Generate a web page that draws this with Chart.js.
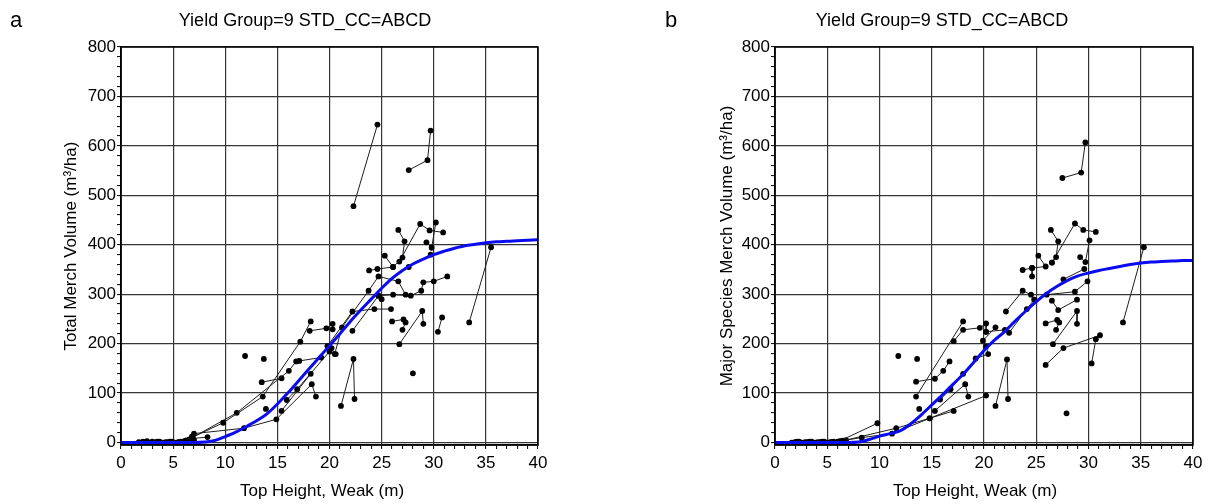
<!DOCTYPE html>
<html><head><meta charset="utf-8">
<script src="https://cdn.jsdelivr.net/npm/chart.js@4.4.1/dist/chart.umd.min.js"></script>
<style>
html,body{margin:0;padding:0;background:#fff;}
#wrap{position:relative;width:1211px;height:504px;overflow:hidden;}
canvas{position:absolute;top:0;}
#ca{left:0;width:605px;height:504px;}
#cb{left:605px;width:606px;height:504px;}
</style></head><body>
<div id="wrap"><canvas id="ca" width="605" height="504"></canvas><canvas id="cb" width="606" height="504"></canvas></div>
<script>
// ---------- texts ----------
const chartTitle = 'Yield Group=9 STD_CC=ABCD';
const xAxisTitle = 'Top Height, Weak (m)';
const aYTitle = 'Total Merch Volume (m³/ha)';
const bYTitle = 'Major Species Merch Volume (m³/ha)';
const panelLetters = ['a', 'b'];

// ---------- ticks ----------
const xTickLabels = ['0','5','10','15','20','25','30','35','40'];
const yTickLabels = ['0','100','200','300','400','500','600','700','800'];

// ---------- fitted yield curves (x = 0..40 m, step 1) ----------
const curveX = [0,1,2,3,4,5,6,7,8,9,10,11,12,13,14,15,16,17,18,19,20,21,22,23,24,25,26,27,28,29,30,31,32,33,34,35,36,37,38,39,40];
const aCurveY = [0,0,0,0,0,0,0,0,1,4,12,21,32,44,58,78,100,124,148,172,196,220,245,268,290,312,332,348,361,371,380,387,393,398,401,404,406,407,408,409,410];
const bCurveY = [0,0,0,0,0,0,0,0,1,6,13,18,24,38,56,76,96,117,138,162,186,207,225,246,266,285,302,316,328,337,343,348,352,356,360,363,365,366,367,368,368];

// ---------- observed plot trajectories [height, volume] ----------
const aEarly = [
  [[1.7,1],[2.1,2]], [[2.0,0],[2.5,3]], [[2.4,1],[3.0,2]], [[2.9,0],[3.5,2]],
  [[3.3,1],[3.9,0]], [[3.7,2],[4.3,1]], [[4.1,0],[4.7,2]], [[4.5,1],[5.1,0]],
  [[4.9,2],[5.5,1]], [[5.3,0],[5.8,2]], [[5.6,1],[6.2,4]], [[6.0,2],[6.8,12],[7.0,5]],
  [[6.3,3],[6.9,9]]
];
const aPlots = [
  [[6.2,4],[9.8,40],[13.6,93],[17.2,204],[18.2,245]],
  [[6.5,6],[11.1,60],[16.1,145],[16.8,164],[17.1,165],[19.2,172]],
  [[13.5,122],[15.4,130]],
  [[6.8,8],[8.3,11]],
  [[7.0,18],[11.8,29],[14.9,47],[18.3,118],[18.7,93]],
  [[15.4,64],[18.2,139]],
  [[15.9,86],[16.9,108],[20.0,184],[20.6,179]],
  [[18.1,226],[19.7,231],[20.3,240],[20.3,229]],
  [[19.8,195],[22.2,265],[24.3,270],[25.9,270]],
  [[20.2,191],[20.5,179],[21.2,233],[23.75,307],[24.7,336],[26.6,326],[27.3,299]],
  [[22.2,226],[24.7,297],[25.0,290]],
  [[21.1,74],[22.3,169],[22.4,88]],
  [[22.3,478],[24.6,643]],
  [[27.6,551],[29.4,571],[29.7,631]],
  [[33.4,243],[35.5,395]],
  [[23.8,348],[24.6,351],[26.1,355]],
  [[25.3,378],[26.1,355],[27.0,374],[27.2,407],[26.6,430]],
  [[26.7,366],[28.7,442],[29.6,429],[30.9,425]],
  [[30.2,445],[29.8,394],[29.3,405]],
  [[27.6,355],[29.7,380]],
  [[24.7,297],[26.1,299],[27.8,297],[28.8,307],[29.0,324],[30.0,326],[31.3,336]],
  [[26.0,245],[27.1,249],[27.3,243],[27.0,228]],
  [[26.7,199],[28.9,266],[29.0,240]],
  [[30.4,224],[30.8,253]],
  [[28.0,140]],
  [[11.9,175]],
  [[13.7,169]],
  [[13.9,68]]
];
const bEarly = [
  [[1.6,0],[2.1,2]], [[1.9,1],[2.5,0]], [[2.3,2],[2.9,1]], [[2.7,0],[3.3,2]],
  [[3.1,1],[3.7,0]], [[3.5,2],[4.1,1]], [[3.9,0],[4.5,2]], [[4.3,1],[4.9,0]],
  [[4.7,2],[5.3,1]], [[5.1,0],[5.6,2]], [[5.4,1],[6.0,2]], [[5.9,0],[6.4,3]]
];
const bPlots = [
  [[6.2,3],[9.8,39]],
  [[6.5,4],[8.3,10],[11.2,18],[14.8,49],[17.1,64]],
  [[6.8,5],[11.6,29],[14.8,49],[20.2,95]],
  [[13.8,68]],
  [[15.3,64],[18.2,118],[18.5,93]],
  [[15.8,87],[16.8,108],[18.0,139]],
  [[13.5,93],[18.0,245]],
  [[13.5,123],[15.3,129],[16.1,145],[16.7,164]],
  [[11.8,175]],
  [[13.6,169]],
  [[17.1,205],[18.0,228],[19.6,232],[20.2,241],[20.2,224]],
  [[19.2,170],[20.4,179],[20.2,194],[19.9,206],[21.1,233]],
  [[20.2,224],[22.0,228],[22.4,222],[24.1,270],[24.8,289]],
  [[21.1,74],[22.2,168],[22.3,88]],
  [[27.5,535],[29.3,546],[29.7,607]],
  [[33.3,243],[35.3,395]],
  [[22.1,265],[23.7,307],[24.5,299]],
  [[23.7,349],[24.6,353],[24.6,336]],
  [[25.2,378],[25.9,356],[24.6,353]],
  [[26.4,430],[27.1,407],[26.9,375],[26.5,364]],
  [[26.5,364],[28.7,443],[29.5,430],[30.7,426]],
  [[30.1,409],[29.7,365],[29.2,375]],
  [[27.6,330],[29.6,351]],
  [[26.0,299],[28.7,305],[29.9,326]],
  [[26.5,287],[27.1,268],[28.9,289]],
  [[25.9,241],[27.0,248],[27.2,243],[26.9,228]],
  [[26.6,199],[28.9,266],[28.9,240]],
  [[25.9,157],[27.6,191],[31.1,217],[30.7,209],[30.3,160]],
  [[27.9,59]]
];

// ---------- rendering ----------
const FONT = 'Liberation Sans, Arial, Helvetica, sans-serif';
const xTickPositions = []; for (let v = 0; v <= 40; v += 1) xTickPositions.push(v);
const yTickPositions = []; for (let v = 0; v <= 800; v += 20) yTickPositions.push(v);

const framePlugin = {
  id: 'frame',
  afterDatasetsDraw(chart) {
    const {ctx, chartArea: {left, top, right, bottom}} = chart;
    ctx.save();
    ctx.strokeStyle = '#000';
    ctx.lineWidth = 1.5;
    ctx.strokeRect(left, top, right - left, bottom - top);
    ctx.restore();
  }
};
const textPlugin = {
  id: 'panelText',
  afterDraw(chart, args, opts) {
    const ctx = chart.ctx;
    ctx.save();
    ctx.fillStyle = '#000';
    ctx.textBaseline = 'alphabetic';
    ctx.font = '22px ' + FONT;
    ctx.textAlign = 'left';
    ctx.fillText(opts.letter, opts.letterX, 27);
    ctx.font = '18px ' + FONT;
    ctx.textAlign = 'center';
    ctx.fillText(chartTitle, opts.titleX, 26);
    ctx.font = '17px ' + FONT;
    ctx.textBaseline = 'middle';
    ctx.fillText(xAxisTitle, opts.xTitleX, 491);
    ctx.restore();
  }
};

function plotDatasets(early, plots, curveY) {
  const ds = [];
  ds.push({
    data: curveX.map((x, i) => ({x: x, y: curveY[i]})),
    showLine: true, borderColor: '#0b0bf0', borderWidth: 3, pointRadius: 0,
    cubicInterpolationMode: 'monotone', order: 0
  });
  early.concat(plots).forEach(p => {
    ds.push({
      data: p.map(([x, y]) => ({x: x, y: y})),
      showLine: true, borderColor: '#1e1e1e', borderWidth: 1,
      pointRadius: 2.9, pointBackgroundColor: '#000', pointBorderWidth: 0,
      order: 1
    });
  });
  return ds;
}

function makeChart(id, early, plots, curveY, yTitle, yWidth, yTitlePad, rightPad, letter, letterX, titleX, xTitleX) {
  return new Chart(document.getElementById(id), {
    type: 'scatter',
    data: {datasets: plotDatasets(early, plots, curveY)},
    plugins: [framePlugin, textPlugin],
    options: {
      responsive: false, animation: false, events: [],
      layout: {padding: {top: 47, right: rightPad, bottom: 0, left: 0}},
      plugins: {legend: {display: false}, tooltip: {enabled: false}, title: {display: false},
                panelText: {letter: letter, letterX: letterX, titleX: titleX, xTitleX: xTitleX}},
      scales: {
        x: {
          type: 'linear', min: 0, max: 40,
          afterBuildTicks: s => { s.ticks = xTickPositions.map(v => ({value: v})); },
          afterFit: s => { s.height = 59; },
          ticks: {autoSkip: false, maxRotation: 0, padding: 4, color: '#000',
                  font: {family: FONT, size: 17},
                  callback: v => (v % 5 === 0 ? xTickLabels[v / 5] : '')},
          grid: {color: c => (c.tick && c.tick.value % 5 === 0 ? '#363636' : 'rgba(0,0,0,0)'),
                 lineWidth: 1.2, tickColor: '#000', tickLength: 4, tickWidth: 1},
          border: {color: '#000', width: 1.5},
          title: {display: false}
        },
        y: {
          type: 'linear', min: -5, max: 800,
          afterBuildTicks: s => { s.ticks = yTickPositions.map(v => ({value: v})); },
          afterFit: s => { s.width = yWidth; },
          ticks: {autoSkip: false, padding: 1, color: '#000',
                  font: {family: FONT, size: 17},
                  callback: v => (v % 100 === 0 ? yTickLabels[v / 100] : '')},
          grid: {color: c => (c.tick && c.tick.value % 100 === 0 ? '#363636' : 'rgba(0,0,0,0)'),
                 lineWidth: 1.2, tickColor: '#000', tickLength: 4, tickWidth: 1},
          border: {color: '#000', width: 1.5},
          title: {display: true, text: yTitle, color: '#000', font: {family: FONT, size: 17},
                  padding: {top: yTitlePad, bottom: 0}}
        }
      }
    }
  });
}

makeChart('ca', aEarly, aPlots, aCurveY, aYTitle, 121, 61, 605 - 538, panelLetters[0], 10, 305, 322);
makeChart('cb', bEarly, bPlots, bCurveY, bYTitle, 170, 112, 18, panelLetters[1], 60, 337, 370);
</script>
</body></html>
